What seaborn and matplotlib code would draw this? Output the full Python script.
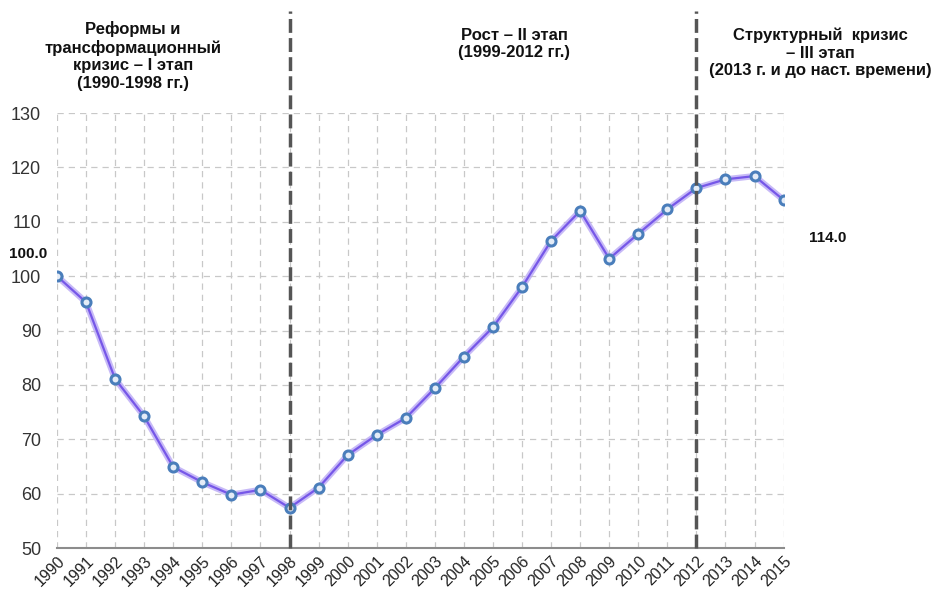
import matplotlib
matplotlib.use("Agg")
import matplotlib.pyplot as plt
import matplotlib.transforms as mtransforms
import seaborn as sns
import pandas as pd

# data
years = list(range(1990, 2016))
values = [100.0, 95.2, 81.1, 74.2, 64.9, 62.1, 59.8, 60.7, 57.4, 61.1,
          67.1, 70.8, 73.9, 79.4, 85.2, 90.6, 98.0, 106.5, 112.0, 103.2,
          107.8, 112.3, 116.2, 117.8, 118.4, 114.0]
stage_bounds = [1998, 2012]
stage_texts = ["Реформы и\nтрансформационный\nкризис – I этап\n(1990-1998 гг.)",
               "Рост – II этап\n(1999-2012 гг.)",
               "Структурный  кризис\n– III этап\n(2013 г. и до наст. времени)"]

df = pd.DataFrame({"year": years, "value": values})

sns.set_theme(style="white")
plt.rcParams['font.family'] = ['Liberation Sans', 'DejaVu Sans']
plt.rcParams['text.color'] = '#111111'

fig = plt.figure(figsize=(9.34, 5.96), dpi=100)
ax = fig.add_axes([0.061, 0.0805, 0.778, 0.7299])

# light shadow under the line
sns.lineplot(data=df, x="year", y="value", ax=ax, color="#b9a8f5", linewidth=4.5, alpha=0.8)
sns.lineplot(data=df, x="year", y="value", ax=ax, color="#7657e8", linewidth=1.6,
             marker="o", markersize=6.5, markerfacecolor="#e4ecf7",
             markeredgecolor="#4a7ebb", markeredgewidth=2.2)

ax.set_xlim(1990, 2015)
ax.set_ylim(50, 130)
ax.set_xticks(years)
ax.set_xticklabels([str(y) for y in years], rotation=45, ha="right", rotation_mode="anchor",
                   fontsize=11.5, color="#222222")
shift = mtransforms.ScaledTranslation(-5 / 100, -1 / 100, fig.dpi_scale_trans)
for lab in ax.get_xticklabels():
    lab.set_transform(lab.get_transform() + shift)
ax.set_yticks(range(50, 131, 10))
ax.tick_params(axis="y", labelsize=13, labelcolor="#333333", pad=11.5, length=0)
ax.tick_params(axis="x", length=0, pad=4)
ax.set_xlabel("")
ax.set_ylabel("")
ax.grid(True, linestyle=(0, (5, 4)), color="#c8c8c8", linewidth=0.9)
for s in ["top", "right", "left"]:
    ax.spines[s].set_visible(False)
ax.spines["bottom"].set_color("#8c8c8c")
ax.spines["bottom"].set_linewidth(1.5)

for b in stage_bounds:
    ax.axvline(b, ymin=0, ymax=1.235, clip_on=False, color="#555555",
               linestyle=(0, (4, 1.5)), linewidth=2.5, zorder=5)

ax.annotate(f"{values[0]:.1f}", (years[0], values[0]), xytext=(-29, 22),
            textcoords="offset pixels", fontsize=11, fontweight="bold", ha="center", va="center")
ax.annotate(f"{values[-1]:.1f}", (years[-1], values[-1]), xytext=(44, -38),
            textcoords="offset pixels", fontsize=11, fontweight="bold", ha="center", va="center")

fig.text(133 / 934, 1 - 56 / 596, stage_texts[0], ha="center", va="center",
         fontsize=12, fontweight="bold", linespacing=1.2)
fig.text(514 / 934, 1 - 44 / 596, stage_texts[1], ha="center", va="center",
         fontsize=12, fontweight="bold", linespacing=1.2)
fig.text(820 / 934, 1 - 53 / 596, stage_texts[2], ha="center", va="center",
         fontsize=12, fontweight="bold", linespacing=1.2)

fig.savefig("out.png", dpi=100)
